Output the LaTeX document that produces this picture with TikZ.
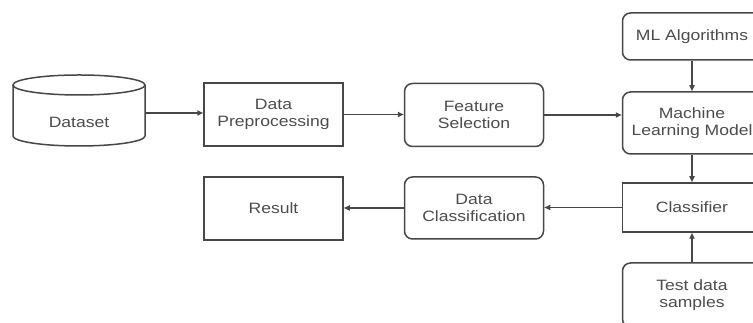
\documentclass[tikz,border=0pt]{standalone}
\usepackage{fontspec}
\setmainfont{Liberation Sans}[FakeStretch=1.17]
\usetikzlibrary{arrows.meta}
\begin{document}
\begin{tikzpicture}[x=1pt,y=1pt,
  line width=1.5pt,
  every node/.style={font=\fontsize{15}{17}\selectfont, text=black!70, align=center, inner sep=0pt},
  sqbox/.style={draw=black!72, minimum width=139pt, minimum height=63pt},
  rbox/.style={draw=black!72, rounded corners=8pt, minimum width=139pt, minimum height=63pt},
  arr/.style={draw=black!72, -{Triangle[length=6pt,width=5pt]}}]
\useasboundingbox (0,0) rectangle (753,323);
% dataset cylinder
\draw[black!72] (13,238) -- (13,187) arc[start angle=180,end angle=360,x radius=66,y radius=10] -- (145,238);
\draw[black!72] (79,238) ellipse[x radius=66,y radius=10];
\node[minimum width=132pt, minimum height=20pt] (ds) at (79,210) {};
\node at (79,201) {Dataset};
% boxes
\node[sqbox] (pp) at (273.5,208.5) {Data\\Preprocessing};
\node[rbox] (fs) at (474,208) {Feature\\Selection};
\node[rbox, minimum height=47pt] (mla) at (692,286.5) {ML Algorithms};
\node[rbox, minimum height=62pt] (mlm) at (692,200) {Machine\\Learning Model};
\node[sqbox, minimum height=49pt] (cls) at (692,115.5) {Classifier};
\node[rbox, minimum height=62pt] (dc) at (474,115) {Data\\Classification};
\node[sqbox] (res) at (273.5,114.5) {Result};
\node[rbox, minimum height=64pt] (tds) at (692,28) {Test data\\samples};
% connectors
\draw[arr] (ds.east) -- (ds.east -| pp.west);
\draw[arr] (pp.east) -- (pp.east -| fs.west);
\draw[arr] (fs.east) -- (fs.east -| mlm.west);
\draw[arr] (mla.south) -- (mlm.north);
\draw[arr] (mlm.south) -- (cls.north);
\draw[arr] (cls.west) -- (cls.west -| dc.east);
\draw[arr] (dc.west) -- (dc.west -| res.east);
\draw[arr] (tds.north) -- (cls.south);
\end{tikzpicture}
\end{document}
